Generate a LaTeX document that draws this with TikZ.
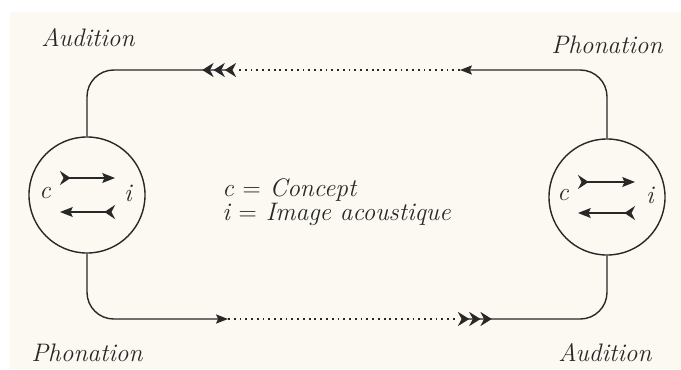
\documentclass[tikz,border=0pt]{standalone}
\usepackage{fontspec}
\usetikzlibrary{arrows.meta,positioning}
\definecolor{ink}{RGB}{40,40,40}
\definecolor{paper}{RGB}{251,249,241}

\begin{document}
\begin{tikzpicture}[x=0.025cm,y=-0.025cm]

		\tikzset{line/.style={draw=ink,line width=1pt}}
		\tikzset{dots/.style={draw=ink,line width=1.6pt,dash pattern=on 1.3pt off 2.8pt}}
		\tikzset{corner/.style={line,rounded corners=19pt}}
		\tikzset{head/.style={arrows={-Stealth[length=8.5pt,width=6.5pt,inset=1.5pt]}}}
		\tikzset{fletch/.style={arrows={Stealth[reversed,length=8pt,width=10pt,inset=2.5pt,sep=0pt] Stealth[reversed,length=8pt,width=10pt,inset=2.5pt,sep=0pt] Stealth[reversed,length=8pt,width=10pt,inset=2.5pt]-}}}
		\tikzset{shaft/.style={line,arrows={Stealth[reversed,length=7.5pt,width=10pt,inset=2.5pt]-Stealth[length=9pt,width=7pt,inset=1.5pt]}}}
		\tikzset{mind/.style={circle,draw=ink,line width=1pt,minimum size=2.9cm,inner sep=0pt}}
		\tikzset{label/.style={font=\fontsize{18}{20}\selectfont\itshape,text=ink,inner sep=0pt}}

		% paper
		\fill[white] (0,0) rectangle (681,369);
		\fill[paper] (10,12) rectangle (681,369);
		\useasboundingbox (0,0) rectangle (681,369);

		\node[mind] (L) at (87,195) {};
		\node[mind] (R) at (607,197) {};

		\node[label] (Lc) at (45,193) {c};
		\node[label] (Li) at (128,193) {i};
		\node[label] (Rc) at (563,195) {c};
		\node[label] (Ri) at (650,195) {i};

		\node[label] (audL) at (88,38) {Audition};
		\node[label] (phoR) at (607,45) {Phonation};
		\node[label] (phoL) at (87,353) {Phonation};
		\node[label] (audR) at (605,353) {Audition};

		\node[label, anchor=west] (cdef) at (222,190) {c {\upshape =} Concept};
		\node[label, anchor=west] (idef) at (222,214) {i {\upshape =} Image acoustique};

		% inner arrows
		\coordinate (La) at ([shift={(-27,-17)}]L.center);
		\coordinate (Lb) at ([shift={(28,-17)}]L.center);
		\coordinate (Lx) at ([shift={(28,17)}]L.center);
		\coordinate (Ly) at ([shift={(-27,17)}]L.center);
		\coordinate (Ra) at ([shift={(-29,-15)}]R.center);
		\coordinate (Rb) at ([shift={(28,-15)}]R.center);
		\coordinate (Rx) at ([shift={(28,16)}]R.center);
		\coordinate (Ry) at ([shift={(-29,16)}]R.center);

		\path[shaft] (La) to (Lb);
		\path[shaft] (Lx) to (Ly);
		\path[shaft] (Ra) to (Rb);
		\path[shaft] (Rx) to (Ry);

		% the loop
		\coordinate (t1) at (460,70);
		\coordinate (t2) at (236,70);
		\coordinate (b1) at (228,319);
		\coordinate (b2) at (458,319);

		\draw[corner, head] (R.north) |- (t1);
		\draw[dots] (t1) -- (t2);
		\draw[corner, fletch] (t2) -| (L.north);

		\draw[corner, head] (L.south) |- (b1);
		\draw[dots] (b1) -- (b2);
		\draw[corner, fletch] (b2) -| (R.south);

	\end{tikzpicture}
\end{document}
